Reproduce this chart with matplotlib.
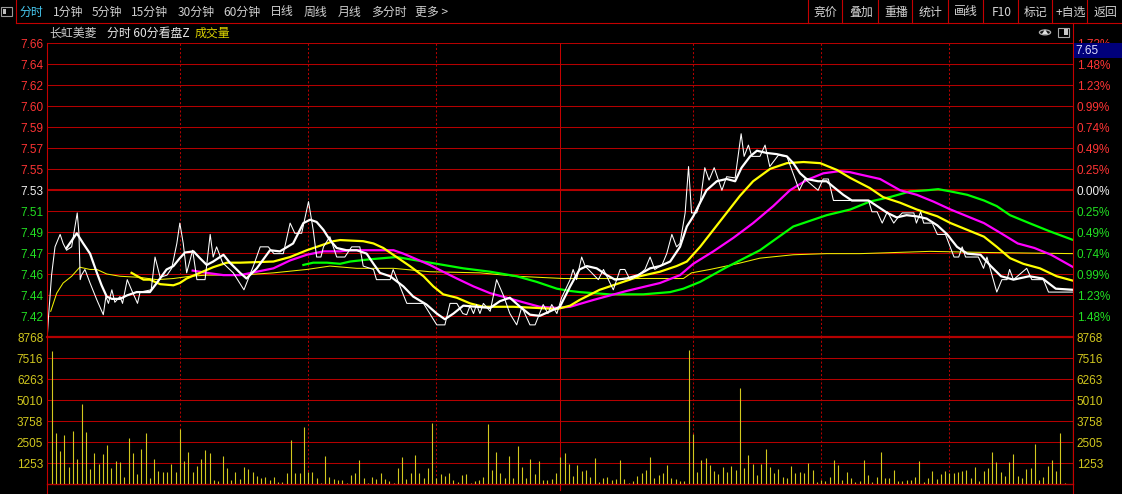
import matplotlib
matplotlib.use("Agg")
import matplotlib.pyplot as plt
from matplotlib.lines import Line2D
from matplotlib.patches import Rectangle, Circle, Polygon

# ---------------- data ----------------
# price axis labels (left) and percent labels (right), top to bottom
price_labels = ["7.66", "7.64", "7.62", "7.60", "7.59", "7.57", "7.55",
                "7.53", "7.51", "7.49", "7.47", "7.46", "7.44", "7.42"]
pct_labels = ["1.73%", "1.48%", "1.23%", "0.99%", "0.74%", "0.49%", "0.25%",
              "0.00%", "0.25%", "0.49%", "0.74%", "0.99%", "1.23%", "1.48%"]
vol_labels = ["1253", "2505", "3758", "5010", "6263", "7516", "8768"]
vol_ticks = [1253, 2505, 3758, 5010, 6263, 7516, 8768]
prev_close = 7.53
pct_step = 0.002466

# minute price (thin white)
price_t = [0, 0.3, 1.0, 1.8, 3.0, 3.7, 4.5, 5.7, 7.0, 7.4, 7.7, 8.0, 8.8, 10.0, 11.6, 13.1, 13.7, 14.3,
           15.1, 15.8, 17.0, 17.6, 18.7, 19.7, 21.1, 21.7, 24.3, 25.2, 26.4, 28.0, 29.1, 30.3, 31.0,
           31.8, 32.6, 34.0, 35.0, 36.9, 38.1, 38.8, 39.6, 41.0, 43.5, 46.0, 48.2, 49.8, 51.7, 53.0,
           55.2, 56.8, 57.9, 59.5, 61.1, 62.2, 63.0, 64.0, 64.6, 66.1, 67.7, 69.6, 71.2, 73.1, 73.9,
           76.3, 77.0, 80.2, 80.9, 84.1, 88.0, 91.1, 93.0, 94.2, 95.8, 97.2, 98.1, 98.9, 99.7, 100.4,
           101.2, 102.0, 103.6, 105.1, 106.7, 108.2, 109.8, 111.0, 111.7, 112.9, 114.1, 116.0, 117.1,
           118.0, 119.2, 120.3, 122.3, 123.0, 123.8, 125.0, 125.8, 128.9, 130.1, 132.4, 134.0, 135.1,
           136.3, 137.9, 139.8, 141.0, 142.1, 143.8, 144.9, 146.1, 147.2, 148.0, 149.2, 150.0, 150.7,
           151.9, 152.7, 153.8, 154.8, 156.0, 157.8, 158.9, 160.9, 162.3, 163.0, 164.0, 164.8, 166.7,
           167.9, 169.0, 171.0, 173.0, 175.9, 177.2, 180.3, 181.5, 182.7, 183.9, 192.1, 192.9, 194.1,
           195.3, 196.5, 198.0, 199.2, 200.0, 202.7, 203.3, 204.3, 205.0, 207.0, 208.2, 210.1, 212.1,
           213.2, 214.0, 214.8, 217.8, 219.0, 219.8, 222.1, 223.3, 224.5, 225.1, 226.0, 229.1, 230.3,
           233.0, 234.2, 240.0]
price_v = [7.401, 7.419, 7.455, 7.480, 7.491, 7.483, 7.477, 7.480, 7.510, 7.492, 7.451, 7.455, 7.460,
           7.448, 7.433, 7.420, 7.436, 7.430, 7.442, 7.431, 7.436, 7.430, 7.451, 7.442, 7.430, 7.440,
           7.442, 7.471, 7.453, 7.455, 7.461, 7.483, 7.501, 7.483, 7.457, 7.477, 7.451, 7.451, 7.491,
           7.471, 7.480, 7.466, 7.457, 7.442, 7.463, 7.480, 7.480, 7.474, 7.474, 7.501, 7.492, 7.492,
           7.520, 7.495, 7.471, 7.471, 7.480, 7.489, 7.471, 7.471, 7.480, 7.480, 7.463, 7.460, 7.451,
           7.451, 7.460, 7.430, 7.430, 7.411, 7.411, 7.430, 7.430, 7.421, 7.420, 7.428, 7.421, 7.429,
           7.421, 7.430, 7.423, 7.451, 7.437, 7.421, 7.411, 7.427, 7.421, 7.411, 7.411, 7.429, 7.421,
           7.429, 7.421, 7.435, 7.451, 7.460, 7.451, 7.471, 7.463, 7.451, 7.460, 7.442, 7.460, 7.460,
           7.451, 7.454, 7.460, 7.471, 7.460, 7.464, 7.474, 7.491, 7.480, 7.483, 7.510, 7.551, 7.510,
           7.510, 7.519, 7.550, 7.539, 7.550, 7.530, 7.542, 7.541, 7.580, 7.560, 7.570, 7.560, 7.560,
           7.570, 7.551, 7.561, 7.560, 7.530, 7.540, 7.530, 7.540, 7.540, 7.521, 7.521, 7.511, 7.511,
           7.501, 7.511, 7.501, 7.507, 7.510, 7.510, 7.501, 7.511, 7.501, 7.501, 7.491, 7.491, 7.471,
           7.471, 7.480, 7.471, 7.471, 7.461, 7.471, 7.440, 7.451, 7.451, 7.460, 7.451, 7.461, 7.451,
           7.451, 7.440, 7.440]

# short moving average (thick white)
maw_t = [4.5, 6.9, 8.4, 10.0, 11.6, 12.7, 13.9, 15.1, 17.0, 18.6, 20.9, 24.0, 25.6, 27.9, 29.5, 31.0,
         32.2, 34.2, 35.7, 37.3, 38.8, 41.2, 42.7, 45.1, 46.6, 49.0, 52.1, 54.4, 57.5, 59.9, 61.5, 63.0,
         64.6, 66.1, 67.7, 70.0, 72.4, 74.7, 76.3, 77.8, 80.2, 83.3, 85.6, 88.7, 91.1, 93.0, 95.0, 97.3,
         100.4, 103.6, 105.9, 108.2, 110.6, 112.9, 115.2, 117.6, 119.9, 122.3, 124.5, 126.2, 128.5,
         130.9, 132.8, 135.5, 138.2, 141.0, 143.3, 145.7, 148.0, 149.6, 151.1, 152.7, 154.2, 156.6,
         158.9, 160.9, 162.4, 164.4, 166.0, 168.3, 170.6, 173.0, 174.5, 176.1, 177.6, 180.3, 182.3,
         183.9, 186.2, 188.2, 192.1, 194.1, 196.5, 198.7, 201.0, 203.3, 205.7, 208.2, 210.5, 212.8,
         215.2, 218.3, 220.7, 223.1, 226.0, 229.7, 232.8, 235.9, 240.0]
maw_v = [7.479, 7.492, 7.483, 7.474, 7.457, 7.446, 7.436, 7.434, 7.434, 7.437, 7.440, 7.440, 7.448,
         7.460, 7.463, 7.470, 7.475, 7.476, 7.470, 7.464, 7.467, 7.473, 7.466, 7.457, 7.452, 7.461,
         7.477, 7.476, 7.483, 7.501, 7.504, 7.502, 7.495, 7.486, 7.479, 7.477, 7.477, 7.474, 7.465,
         7.457, 7.454, 7.445, 7.436, 7.429, 7.421, 7.416, 7.421, 7.428, 7.427, 7.426, 7.432, 7.435,
         7.427, 7.420, 7.419, 7.423, 7.427, 7.445, 7.460, 7.463, 7.461, 7.455, 7.451, 7.452, 7.455,
         7.461, 7.463, 7.467, 7.480, 7.498, 7.507, 7.519, 7.530, 7.538, 7.540, 7.538, 7.550, 7.560,
         7.565, 7.563, 7.562, 7.560, 7.554, 7.545, 7.540, 7.538, 7.538, 7.533, 7.526, 7.521, 7.521,
         7.516, 7.510, 7.506, 7.508, 7.507, 7.505, 7.499, 7.491, 7.480, 7.474, 7.473, 7.463, 7.454,
         7.451, 7.454, 7.452, 7.443, 7.442]

# average price (thin yellow)
avg_t = [0.8, 2.2, 3.7, 5.7, 7.6, 10.0, 11.6, 13.9, 17.0, 21.7, 25.6, 29.5, 33.4, 37.3, 45.1, 52.9,
         60.7, 66.1, 72.4, 81.0, 89.5, 101.2, 109.8, 120.7, 148.8, 150.7, 155.0, 161.3, 166.7, 174.5,
         182.3, 190.1, 206.5, 220.0, 240.0]
avg_v = [7.423, 7.439, 7.448, 7.454, 7.462, 7.460, 7.460, 7.456, 7.454, 7.453, 7.451, 7.452, 7.454,
         7.455, 7.455, 7.457, 7.460, 7.463, 7.461, 7.461, 7.458, 7.457, 7.454, 7.452, 7.452, 7.457,
         7.460, 7.465, 7.470, 7.473, 7.474, 7.474, 7.476, 7.475, 7.474]

# yellow thick MA
may_t = [19.7, 22.5, 24.0, 26.4, 29.5, 31.0, 32.6, 35.7, 38.8, 42.0, 45.1, 52.9, 56.8, 60.7, 64.6,
         66.9, 68.5, 73.9, 76.3, 78.6, 81.7, 84.8, 88.0, 90.3, 92.6, 95.8, 98.9, 102.0, 109.0, 114.5,
         119.2, 122.3, 124.5, 129.2, 133.9, 138.6, 143.3, 147.2, 149.6, 152.7, 155.8, 158.9, 162.0,
         165.1, 169.1, 173.0, 176.9, 180.8, 184.7, 187.8, 192.4, 195.5, 199.5, 203.4, 208.2, 211.3,
         215.2, 219.1, 222.1, 225.2, 228.3, 232.2, 236.1, 240.0]
may_v = [7.457, 7.451, 7.451, 7.447, 7.446, 7.448, 7.452, 7.457, 7.462, 7.466, 7.466, 7.467, 7.471,
         7.477, 7.482, 7.485, 7.486, 7.485, 7.483, 7.479, 7.471, 7.463, 7.454, 7.445, 7.438, 7.435,
         7.430, 7.427, 7.427, 7.426, 7.425, 7.428, 7.433, 7.442, 7.448, 7.454, 7.458, 7.463, 7.467,
         7.480, 7.495, 7.510, 7.525, 7.538, 7.549, 7.554, 7.555, 7.554, 7.548, 7.541, 7.532, 7.524,
         7.519, 7.513, 7.507, 7.501, 7.495, 7.489, 7.480, 7.470, 7.465, 7.461, 7.454, 7.450]

# magenta MA
mam_t = [34.0, 37.3, 41.2, 45.1, 49.0, 52.9, 56.8, 60.7, 64.6, 68.5, 70.8, 75.5, 81.0, 83.3, 86.4,
         89.5, 92.6, 95.8, 99.7, 103.6, 107.5, 111.3, 115.2, 119.2, 122.3, 127.7, 135.5, 143.3, 148.0,
         151.1, 155.8, 160.5, 165.1, 169.8, 173.7, 177.6, 181.5, 185.4, 187.8, 190.1, 194.8, 199.5,
         203.4, 207.3, 211.3, 215.2, 219.1, 223.1, 227.0, 230.9, 234.8, 240.0]
mam_v = [7.459, 7.457, 7.455, 7.455, 7.458, 7.461, 7.468, 7.473, 7.476, 7.476, 7.477, 7.477, 7.477,
         7.474, 7.469, 7.464, 7.458, 7.452, 7.445, 7.439, 7.435, 7.431, 7.427, 7.426, 7.427, 7.433,
         7.441, 7.448, 7.455, 7.465, 7.476, 7.488, 7.501, 7.516, 7.530, 7.539, 7.545, 7.547, 7.546,
         7.544, 7.540, 7.530, 7.526, 7.520, 7.513, 7.507, 7.501, 7.492, 7.483, 7.479, 7.473, 7.462]

# green MA
mag_t = [59.9, 62.2, 65.4, 68.5, 70.8, 75.5, 81.7, 86.4, 91.1, 97.3, 103.6, 109.8, 114.5, 119.2,
         122.3, 124.5, 131.5, 139.4, 145.7, 148.8, 152.7, 158.9, 166.7, 174.5, 182.3, 187.8, 192.4,
         197.1, 201.8, 205.7, 208.4, 211.3, 215.2, 219.1, 222.1, 225.2, 229.7, 234.3, 240.0]
mag_v = [7.464, 7.466, 7.466, 7.465, 7.467, 7.469, 7.471, 7.468, 7.465, 7.461, 7.458, 7.454, 7.449,
         7.443, 7.441, 7.440, 7.438, 7.438, 7.440, 7.443, 7.449, 7.462, 7.477, 7.498, 7.508, 7.513,
         7.520, 7.524, 7.529, 7.530, 7.531, 7.529, 7.526, 7.521, 7.516, 7.508, 7.501, 7.494, 7.486]

# volume per minute, morning (minutes 1..119) and afternoon (minutes 120..240)
vol_am = [7936, 3043, 1969, 2924, 1014, 3162, 1492, 4773, 3103, 895,
          1850, 1193, 1790, 2327, 955, 1372, 1313, 418, 2745, 1850,
          597, 2088, 3043, 358, 1492, 776, 716, 716, 1193, 716,
          3282, 1372, 1909, 716, 1074, 1492, 2029, 1850, 239, 179,
          1671, 955, 239, 716, 298, 1014, 895, 716, 477, 358,
          418, 239, 418, 119, 119, 656, 2625, 656, 656, 3401,
          716, 716, 358, 60, 1671, 418, 298, 239, 239, 60,
          537, 656, 1432, 358, 60, 418, 298, 656, 298, 179,
          60, 955, 1611, 298, 656, 1730, 656, 358, 955, 3640,
          358, 597, 477, 656, 239, 119, 537, 597, 60, 179,
          239, 418, 3580, 835, 1909, 656, 358, 1671, 358, 2267,
          1014, 358, 1492, 597, 1372, 239, 239, 298, 656]
vol_pm = [1611, 1850, 1193, 477, 1134, 776, 835, 418, 1551, 119,
          358, 418, 239, 298, 1432, 298, 60, 179, 477, 656,
          835, 1611, 358, 537, 656, 1134, 358, 298, 179, 179,
          7995, 2983, 716, 1432, 1551, 1134, 776, 597, 1014, 716,
          1074, 835, 5728, 955, 1730, 1193, 537, 1193, 2088, 1014,
          656, 895, 418, 358, 1074, 656, 716, 656, 1253, 835,
          119, 239, 179, 418, 1432, 1134, 239, 716, 358, 119,
          179, 1432, 537, 119, 418, 1909, 358, 358, 835, 179,
          179, 239, 239, 418, 1372, 119, 358, 776, 298, 597,
          776, 656, 656, 716, 776, 835, 358, 1014, 179, 776,
          955, 1909, 1313, 716, 477, 1313, 1790, 477, 358, 895,
          955, 2387, 239, 418, 1074, 1432, 776, 3043, 60, 0, 4654]

menu_left = ["分时", "1分钟", "5分钟", "15分钟", "30分钟", "60分钟", "日线", "周线", "月线", "多分时", "更多 >"]
menu_right = ["竞价", "叠加", "重播", "统计", "画线", "F10", "标记", "+自选", "返回"]
last_price = "7.65"

# ---------------- figure ----------------
plt.rcParams['font.family'] = ['Noto Sans CJK SC', 'DejaVu Sans']
W, H = 1122, 494
fig = plt.figure(figsize=(W / 100, H / 100), dpi=100)
fig.patch.set_facecolor('black')

def fx(x):
    return x / W

def fy(y):
    return 1 - y / H

def fline(x1, y1, x2, y2, color, lw=0.75, ls='-', z=5):
    fig.add_artist(Line2D([fx(x1), fx(x2)], [fy(y1), fy(y2)], color=color, lw=lw, ls=ls,
                          transform=fig.transFigure, zorder=z))

RED = '#c40000'
GRID = '#b40000'
C_RED = '#ff3434'
C_GREEN = '#22e022'
C_WHITE = '#f0f0f0'
C_VOL = '#d2c81e'
NUMFONT = 'Liberation Sans'

L, R, T, M, B = 47.3, 1073.3, 43.3, 337.3, 484.0
step = prev_close * pct_step

ax = fig.add_axes([fx(L), fy(M), (R - L) / W, (M - T) / H])
axv = fig.add_axes([fx(L), fy(B), (R - L) / W, (B - M) / H])
for a in (ax, axv):
    a.set_facecolor('black')
    for s in a.spines.values():
        s.set_visible(False)
    a.set_xlim(0, 240)
    a.set_xticks([])

ax.set_ylim(prev_close - 7 * step, prev_close + 7 * step)
axv.set_ylim(0, vol_ticks[-1])

levels = [prev_close + i * step for i in range(7, -7, -1)]
for lv in levels:
    ax.axhline(lv, color=GRID, lw=1.5 if abs(lv - prev_close) < 1e-9 else 0.75, zorder=1)
for v in vol_ticks[:-1]:
    axv.axhline(v, color=GRID, lw=0.75, zorder=1)
axv.axhline(vol_ticks[-1], color=GRID, lw=1.6, zorder=1, clip_on=False)
axv.axhline(0, color=GRID, lw=1.0, zorder=1, clip_on=False)

# vertical separators
for a in (ax, axv):
    for xd in (31, 61, 91, 151, 181, 211):
        a.axvline(xd, color=GRID, lw=0.75, ls=(0, (2, 2)), zorder=1)
    a.axvline(120, color=RED, lw=0.75, zorder=1)

# tick labels
lbl_colors = [C_RED] * 7 + [C_WHITE] + [C_GREEN] * 6
ax.set_yticks(levels)
ax.set_yticklabels(price_labels, fontfamily=NUMFONT, fontsize=8.5)
ax.tick_params(axis='y', length=0, pad=2.9)
for t, c in zip(ax.get_yticklabels(), lbl_colors):
    t.set_color(c)
axr = ax.twinx()
axr.set_ylim(ax.get_ylim())
for s in axr.spines.values():
    s.set_visible(False)
axr.set_yticks(levels)
axr.set_yticklabels(pct_labels, fontfamily=NUMFONT, fontsize=8.5)
axr.tick_params(axis='y', length=0, pad=2.4)
for t, c in zip(axr.get_yticklabels(), lbl_colors):
    t.set_color(c)

axv.set_yticks(vol_ticks)
axv.set_yticklabels(vol_labels, fontfamily=NUMFONT, fontsize=8.5, color=C_VOL)
axv.tick_params(axis='y', length=0, pad=2.9)
axvr = axv.twinx()
axvr.set_ylim(axv.get_ylim())
for s in axvr.spines.values():
    s.set_visible(False)
axvr.set_yticks(vol_ticks)
axvr.set_yticklabels(vol_labels, fontfamily=NUMFONT, fontsize=8.5, color=C_VOL)
axvr.tick_params(axis='y', length=0, pad=2.4)
axvr.set_xlim(0, 240)

# lines
ax.plot(avg_t, avg_v, color='#f0f000', lw=0.75, zorder=3)
ax.plot(mag_t, mag_v, color='#00ff00', lw=1.6, zorder=4)
ax.plot(mam_t, mam_v, color='#ff00ff', lw=1.6, zorder=4)
ax.plot(may_t, may_v, color='#ffff00', lw=1.6, zorder=4)
ax.plot(maw_t, maw_v, color='#ffffff', lw=1.6, zorder=5)
ax.plot(price_t, price_v, color='#ffffff', lw=0.75, zorder=6)

# volume bars
vol = vol_am + vol_pm
vx = list(range(1, len(vol) + 1))
axv.vlines(vx, 0, vol, color=C_VOL, lw=0.8, zorder=3)

# borders
fline(L, T, L, H, RED, lw=0.8)
fline(R, 22.7, R, H, RED, lw=0.8)
fline(560.3, B, 560.3, 490, RED, lw=0.8)

# ---------------- top toolbar ----------------
fline(15.7, 22.7, W, 22.7, RED, lw=0.8)
fline(15.7, 0, 15.7, 22.7, RED, lw=0.8)
fig.add_artist(Rectangle((fx(0.5), fy(16.5)), 11 / W, 9 / H, transform=fig.transFigure,
                         facecolor='black', edgecolor='#9a9a9a', lw=0.8))
fig.add_artist(Rectangle((fx(2.5), fy(14.5)), 4 / W, 5 / H, transform=fig.transFigure,
                         facecolor='#bdbdbd', edgecolor='none'))
menu_x = [20, 53.3, 92, 131, 177.3, 223, 270, 304, 337.7, 370.7, 414.7]
for i, (s, x) in enumerate(zip(menu_left, menu_x)):
    fig.text(fx(x), fy(12), s, color='#46c8f0' if i == 0 else '#cfcfcf', fontsize=8.6,
             ha='left', va='center')
sep_x = [808.3, 842.3, 878.3, 912.3, 947.7, 983.3, 1018.3, 1052.3, 1087.3]
for x in sep_x:
    fline(x, 0, x, 22.7, RED, lw=0.8)
for i, s in enumerate(menu_right):
    x0 = sep_x[i]
    x1 = sep_x[i + 1] if i + 1 < len(sep_x) else W
    fig.text(fx((x0 + x1) / 2 + 0.5), fy(12), s, color='#d4d4d4', fontsize=8.6,
             ha='center', va='center')

# header line
fig.text(fx(49.3), fy(33), "长虹美菱", color='#c8c8c8', fontsize=8.6, ha='left', va='center')
fig.text(fx(106.7), fy(33), "分时 60分看盘Z", color='#e8e8e8', fontsize=8.6, ha='left', va='center')
fig.text(fx(195), fy(33), "成交量", color='#dcd200', fontsize=8.6, ha='left', va='center')
fig.add_artist(Circle((fx(1045), fy(32.4)), 5.6 / W, transform=fig.transFigure,
                      facecolor='#141414', edgecolor='#b0b0b0', lw=0.9))
fig.add_artist(Polygon([(fx(1041.8), fy(34.2)), (fx(1048.2), fy(34.2)), (fx(1045), fy(29.4))],
                       closed=True, transform=fig.transFigure, facecolor='#e0e0e0', edgecolor='none'))
fig.add_artist(Rectangle((fx(1058), fy(37)), 11 / W, 9 / H, transform=fig.transFigure,
                         facecolor='black', edgecolor='#a8a8a8', lw=0.8))
fig.add_artist(Rectangle((fx(1063.5), fy(35.5)), 4 / W, 6 / H, transform=fig.transFigure,
                         facecolor='#c8c8c8', edgecolor='none'))

# last price box
fig.add_artist(Rectangle((fx(R + 0.7), fy(58.3)), (W - R) / W, 15.6 / H, transform=fig.transFigure,
                         facecolor='#00007a', edgecolor='none', zorder=20))
fig.text(fx(1075), fy(51.5), last_price, color='#e0e0ff', fontsize=8.5, fontfamily=NUMFONT,
         ha='left', va='center', zorder=21)

fig.savefig('out.png', dpi=100, facecolor='black')
